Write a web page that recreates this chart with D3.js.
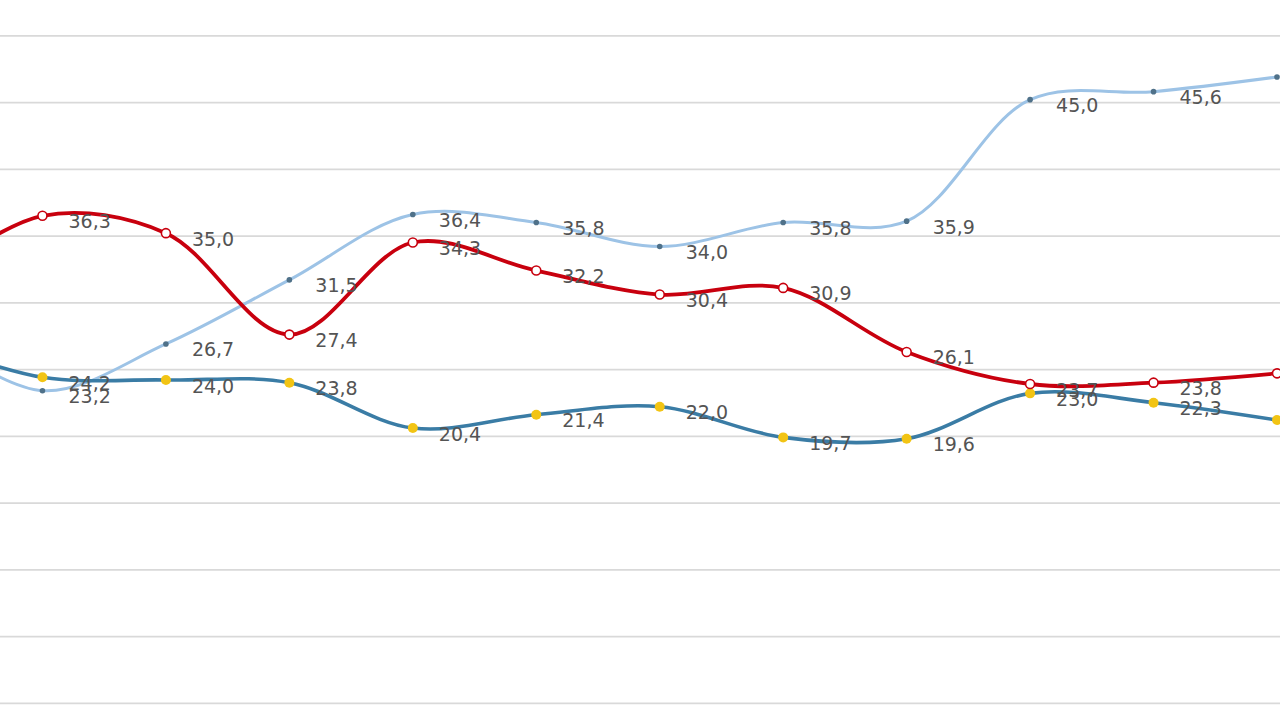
<!DOCTYPE html>
<html>
<head>
<meta charset="utf-8">
<script src="https://cdn.jsdelivr.net/npm/d3@7"></script>
<style>
  html, body { margin: 0; padding: 0; background: #fff; overflow: hidden; }
</style>
</head>
<body>
<svg id="chart"></svg>
<script>
// values per series, first entry sits just off the left edge (not labelled)
var lightBlueValues = [28.0, 23.2, 26.7, 31.5, 36.4, 35.8, 34.0, 35.8, 35.9, 45.0, 45.6, 46.7]
var redValues = [31.0, 36.3, 35.0, 27.4, 34.3, 32.2, 30.4, 30.9, 26.1, 23.7, 23.8, 24.5]
var tealValues = [27.0, 24.2, 24.0, 23.8, 20.4, 21.4, 22.0, 19.7, 19.6, 23.0, 22.3, 21.0]
// which points carry a data label (last point label falls off screen)
var labelled = [false, true, true, true, true, true, true, true, true, true, true, false]
var gridTicks = [0, 5, 10, 15, 20, 25, 30, 35, 40, 45, 50]

var dimensions = {
  width: 1280,
  height: 720
}

const lightBlue = "#9dc3e6"
const red = "#c8000e"
const teal = "#3a7ca5"
const yellow = "#f2c414"
const labelColor = "#545454"

var locale = d3.formatLocale({decimal: ",", thousands: ".", grouping: [3], currency: ["", ""]})
var fmt = locale.format(".1f")

var svg = d3.select("#chart")
  .attr("width", dimensions.width)
  .attr("height", dimensions.height)

// point index along x (index 0 is off the left edge)
var xScale = d3.scaleLinear()
  .domain([0, 11])
  .range([-81, 1277])

var yScale = d3.scaleLinear()
  .domain([0, 50])
  .range([700.4, 32.9])

// gridlines
svg.append("g")
  .attr("transform", "translate(0,3)")
  .selectAll("line")
  .data(gridTicks)
  .enter()
  .append("line")
  .attr("x1", 0)
  .attr("x2", dimensions.width)
  .attr("y1", d => yScale(d))
  .attr("y2", d => yScale(d))
  .attr("stroke", "#d9d9d9")
  .attr("stroke-width", 1.6)

var line = d3.line()
  .x((d, i) => xScale(i))
  .y(d => yScale(d))
  .curve(d3.curveCatmullRom.alpha(0.5))

function drawSeries(values, color, width) {
  svg.append("path")
    .datum(values)
    .attr("fill", "none")
    .attr("stroke", color)
    .attr("stroke-width", width)
    .attr("stroke-linejoin", "round")
    .attr("d", line)
}

drawSeries(lightBlueValues, lightBlue, 3)
drawSeries(tealValues, teal, 3.6)
drawSeries(redValues, red, 3.8)

// markers
svg.append("g").selectAll("circle")
  .data(lightBlueValues)
  .enter()
  .append("circle")
  .attr("cx", (d, i) => xScale(i))
  .attr("cy", d => yScale(d))
  .attr("r", 2.8)
  .attr("fill", "#4f7189")

svg.append("g").selectAll("circle")
  .data(tealValues)
  .enter()
  .append("circle")
  .attr("cx", (d, i) => xScale(i))
  .attr("cy", d => yScale(d))
  .attr("r", 5)
  .attr("fill", yellow)

svg.append("g").selectAll("circle")
  .data(redValues)
  .enter()
  .append("circle")
  .attr("cx", (d, i) => xScale(i))
  .attr("cy", d => yScale(d))
  .attr("r", 4.5)
  .attr("fill", "#fff")
  .attr("stroke", red)
  .attr("stroke-width", 1.6)

// data labels
function drawLabels(values, dy) {
  svg.append("g").selectAll("text")
    .data(values.map((v, i) => ({v: v, i: i})).filter(d => labelled[d.i]))
    .enter()
    .append("text")
    .attr("x", d => xScale(d.i) + 26)
    .attr("y", d => yScale(d.v) + dy)
    .attr("dominant-baseline", "middle")
    .attr("font-family", "'DejaVu Sans', sans-serif")
    .attr("font-size", "19px")
    .attr("fill", labelColor)
    .text(d => fmt(d.v))
}

drawLabels(lightBlueValues, 7)
drawLabels(redValues, 7)
drawLabels(tealValues, 7)
</script>
</body>
</html>
